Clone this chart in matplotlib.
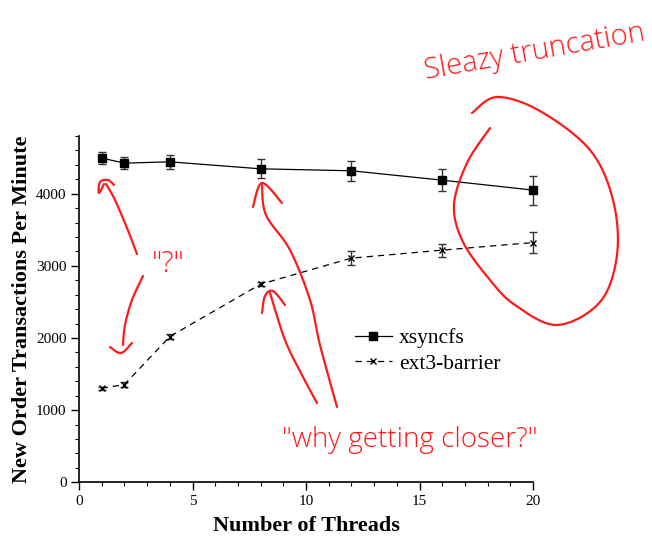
import numpy as np
import matplotlib.pyplot as plt

# data
threads = [1, 2, 4, 8, 12, 16, 20]
xsyncfs = [4494, 4424, 4442, 4345, 4318, 4188, 4050]
xsyncfs_err = [80, 85, 95, 130, 135, 157, 200]
ext3 = [1304, 1354, 2020, 2746, 3107, 3218, 3323]
ext3_err = [20, 30, 30, 30, 100, 90, 145]

W, H = 652, 536
fig = plt.figure(figsize=(W / 100, H / 100), dpi=100)
plt.rcParams['font.family'] = ['Liberation Serif', 'DejaVu Serif']

ax = fig.add_axes([79 / W, 1 - 482.3 / H, (533 - 79) / W, (482.3 - 136) / H])
ax.errorbar(threads, xsyncfs, yerr=xsyncfs_err, color='black', lw=0.9,
            marker='s', ms=5.5, ecolor='#333333', elinewidth=1.0,
            capsize=3, capthick=1.0, label='xsyncfs', clip_on=False)
ax.errorbar(threads, ext3, yerr=ext3_err, color='black', lw=0.9, ls=(0, (5, 4)),
            marker='x', ms=5, mew=1.0, ecolor='#333333', elinewidth=1.0,
            capsize=3, capthick=1.0, label='ext3-barrier', clip_on=False)

ax.set_xlim(0, 20)
ax.set_ylim(0, 4800)
ax.set_xticks([0, 5, 10, 15, 20])
ax.set_xticks(np.arange(0, 21, 1), minor=True)
ax.set_yticks([0, 1000, 2000, 3000, 4000])
ax.set_yticks(np.arange(0, 4801, 200), minor=True)
for s in ['top', 'right']:
    ax.spines[s].set_visible(False)
for s in ['left', 'bottom']:
    ax.spines[s].set_linewidth(1.2)
ax.tick_params(which='major', length=6, width=1.0, labelsize=11, pad=3)
ax.tick_params(which='minor', length=3, width=0.8)
ax.set_xlabel('Number of Threads', fontsize=16, fontweight='bold', labelpad=6)
ax.set_ylabel('New Order Transactions Per Minute', fontsize=16, fontweight='bold', labelpad=3)

handles, labels = ax.get_legend_handles_labels()
handles = [h[0] for h in handles]
ax.legend(handles, labels, loc='upper left', bbox_to_anchor=(355 / W, 1 - 328 / H),
          bbox_transform=fig.transFigure, frameon=False, fontsize=15.5,
          handlelength=1.7, handletextpad=0.35, labelspacing=0.25,
          borderpad=0, borderaxespad=0)

# red hand-drawn notes, in figure pixel coordinates
ov = fig.add_axes([0, 0, 1, 1], facecolor='none')
ov.set_xlim(0, W)
ov.set_ylim(H, 0)
ov.axis('off')
red = '#ff1a1a'


def stroke(pts, lw=1.6, closed=False):
    p = np.array(pts, dtype=float)
    if closed:
        p = np.vstack([p[-1], p, p[0], p[1]])
    else:
        p = np.vstack([p[0], p, p[-1]])
    out = []
    t = np.linspace(0, 1, 12)[:, None]
    for i in range(1, len(p) - 2):
        p0, p1, p2, p3 = p[i - 1], p[i], p[i + 1], p[i + 2]
        seg = 0.5 * (2 * p1 + (-p0 + p2) * t + (2 * p0 - 5 * p1 + 4 * p2 - p3) * t ** 2
                     + (-p0 + 3 * p1 - 3 * p2 + p3) * t ** 3)
        out.append(seg)
    out = np.vstack(out)
    ov.plot(out[:, 0], out[:, 1], color=red, lw=lw, solid_capstyle='round')


# loop around the right end
stroke([(490, 128), (467, 163), (454, 205), (463, 242), (490, 280), (515, 305),
        (557, 325), (600, 302), (617, 255), (613, 200), (590, 150), (540, 111),
        (497, 97), (472, 113)])

# arrow to xsyncfs at 1 thread
stroke([(137, 254), (127, 228), (115, 200), (106, 184)])
stroke([(104, 184), (99, 193), (100, 182), (108, 180), (114, 185)])
# arrow down towards ext3
stroke([(143, 276), (132, 300), (125, 325), (123, 345)])
stroke([(110, 347), (121, 353), (132, 343)])

# arrows to the 8-thread points
stroke([(262, 185), (266, 215), (290, 250), (310, 300), (320, 345), (337, 407)])
stroke([(253, 207), (262, 183), (282, 203)])
stroke([(270, 293), (285, 340), (302, 375), (317, 403)])
stroke([(262, 313), (265, 296), (273, 291), (285, 305)])

hand = ['Open Sans', 'DejaVu Sans']
ov.text(535, 52, 'Sleazy truncation', color=red, fontsize=21, family=hand,
        fontweight='light', rotation=10, ha='center', va='center')
ov.text(168, 264, '"?"', color=red, fontsize=21, family=hand,
        fontweight='light', ha='center', va='center')
ov.text(410, 440, '"why getting closer?"', color=red, fontsize=20, family=hand,
        fontweight='light', ha='center', va='center')

fig.savefig('out.png', dpi=100)
